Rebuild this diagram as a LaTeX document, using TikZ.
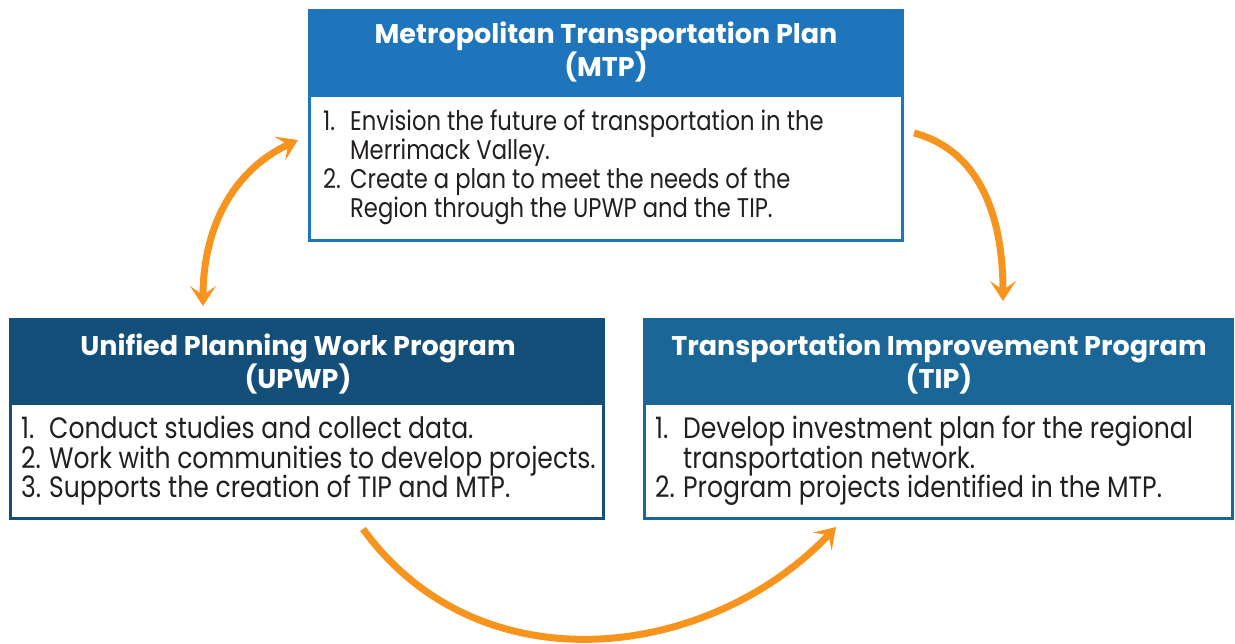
\documentclass[tikz,border=0pt]{standalone}
\usepackage{fontspec}
\setmainfont{Poppins}
\newfontfamily\hdrfont{Poppins}
\newfontfamily\bodyfont{Poppins}[FakeStretch=0.84]
\newfontfamily\bodyfontb{Poppins}[FakeStretch=0.85]
\usetikzlibrary{arrows.meta}
\definecolor{mtpc}{HTML}{1E75BB}
\definecolor{upwpc}{HTML}{134F78}
\definecolor{tipc}{HTML}{1A6696}
\definecolor{arrc}{HTML}{F7941D}
\definecolor{txtc}{HTML}{231F20}
\newcommand{\numb}[1]{\makebox[27pt][l]{#1}}
\newcommand{\numbb}[1]{\makebox[28pt][l]{#1}}
\newcommand{\hang}{\hspace*{27pt}}
\newcommand{\hangb}{\hspace*{28pt}}
\tikzset{
  outerbox/.style={anchor=north west, inner sep=0pt, outer sep=0pt},
  innerbox/.style={anchor=north west, fill=white, inner sep=0pt, outer sep=0pt},
  hdrtext/.style={text=white, anchor=base, inner sep=0pt, font=\hdrfont\bfseries\fontsize{27}{33}\selectfont},
  bodytext/.style={text=txtc, anchor=base west, inner sep=0pt, font=\bodyfont\fontsize{27}{29}\selectfont},
  bodytextb/.style={text=txtc, anchor=base west, inner sep=0pt, font=\bodyfontb\fontsize{29.5}{30}\selectfont},
  cyc/.style={draw=arrc, line width=7pt},
  cyctip/.tip={Stealth[length=20pt, width=26pt, inset=9pt]}
}
\begin{document}
\begin{tikzpicture}[x=1pt,y=1pt]
\useasboundingbox (0,0) rectangle (1235,-643);
% MTP
\node[outerbox, fill=mtpc, minimum width=596, minimum height=233] (mtp) at (308,-9) {};
\node[innerbox, minimum width=590, minimum height=142] (mtpb) at (311,-97) {};
\node[hdrtext] (mtph1) at (606,-43) {Metropolitan Transportation Plan};
\node[hdrtext] (mtph2) at (606,-76) {(MTP)};
\node[bodytext] (mtpt1) at (323,-130) {\numb{1.}Envision the future of transportation in the};
\node[bodytext] (mtpt2) at (323,-159) {\hang Merrimack Valley.};
\node[bodytext] (mtpt3) at (323,-188) {\numb{2.}Create a plan to meet the needs of the};
\node[bodytext] (mtpt4) at (323,-217) {\hang Region through the UPWP and the TIP.};
% UPWP
\node[outerbox, fill=upwpc, minimum width=596, minimum height=202] (upwp) at (9,-318) {};
\node[innerbox, minimum width=590, minimum height=112] (upwpb) at (12,-405) {};
\node[hdrtext] (upwph1) at (298,-355) {Unified Planning Work Program};
\node[hdrtext] (upwph2) at (298,-388) {(UPWP)};
\node[bodytextb] (upwpt1) at (21,-438) {\numbb{1.}Conduct studies and collect data.};
\node[bodytextb] (upwpt2) at (21,-468) {\numbb{2.}Work with communities to develop projects.};
\node[bodytextb] (upwpt3) at (21,-497) {\numbb{3.}Supports the creation of TIP and MTP.};
% TIP
\node[outerbox, fill=tipc, minimum width=591, minimum height=202] (tip) at (643,-318) {};
\node[innerbox, minimum width=585, minimum height=112] (tipb) at (646,-405) {};
\node[hdrtext] (tiph1) at (939,-355) {Transportation Improvement Program};
\node[hdrtext] (tiph2) at (939,-388) {(TIP)};
\node[bodytextb] (tipt1) at (655,-438) {\numbb{1.}Develop investment plan for the regional};
\node[bodytextb] (tipt2) at (655,-468) {\hangb transportation network.};
\node[bodytextb] (tipt3) at (655,-497) {\numbb{2.}Program projects identified in the MTP.};
% connectors
\coordinate (a1s) at (203,-306);
\coordinate (a1e) at (298,-140);
\coordinate (a2s) at (914,-133);
\coordinate (a2e) at (1003,-301);
\coordinate (a3s) at (363,-529);
\coordinate (a3e) at (836,-527);
\draw[cyc, cyctip-cyctip] (a1s) to[out=90, in=205] (a1e);
\draw[cyc, -cyctip] (a2s) to[out=-15, in=90] (a2e);
\draw[cyc, -cyctip] (a3s) .. controls (480,-690) and (710,-660) .. (a3e);
\end{tikzpicture}
\end{document}
